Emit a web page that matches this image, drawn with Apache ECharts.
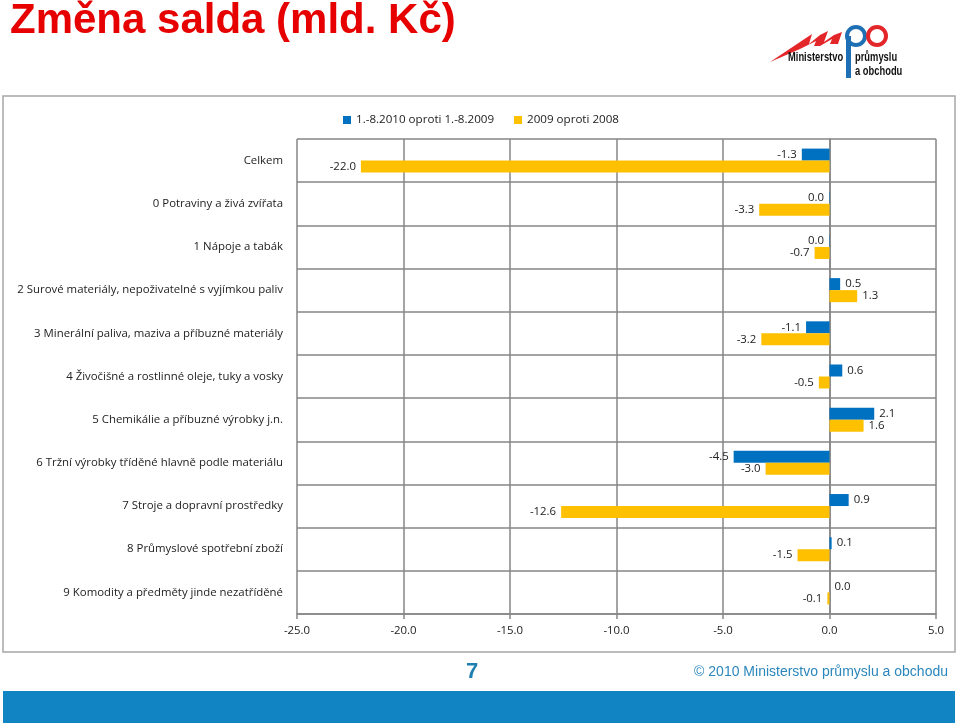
<!DOCTYPE html>
<html>
<head>
<meta charset="utf-8">
<script src="https://cdn.jsdelivr.net/npm/echarts@6/dist/echarts.min.js"></script>
<style>
  html, body { margin: 0; padding: 0; background: #fff; }
  #chart { width: 959px; height: 725px; }
</style>
</head>
<body>
<div id="chart"></div>
<script>
// kategorie (shora dolů)
const categories = [
  'Celkem',
  '0 Potraviny a živá zvířata',
  '1 Nápoje a tabák',
  '2 Surové materiály, nepoživatelné s vyjímkou paliv',
  '3 Minerální paliva, maziva a příbuzné materiály',
  '4 Živočišné a rostlinné oleje, tuky a vosky',
  '5 Chemikálie a příbuzné výrobky j.n.',
  '6 Tržní výrobky tříděné hlavně podle materiálu',
  '7 Stroje a dopravní prostředky',
  '8 Průmyslové spotřební zboží',
  '9 Komodity a předměty jinde nezatříděné'
];
const seriesNames = ['1.-8.2010 oproti 1.-8.2009', '2009 oproti 2008'];
// 1.-8.2010 oproti 1.-8.2009
const change2010 = [-1.3, -0.02, -0.02, 0.5, -1.1, 0.6, 2.1, -4.5, 0.9, 0.1, 0.0];
// 2009 oproti 2008
const change2009 = [-22.0, -3.3, -0.7, 1.3, -3.2, -0.5, 1.6, -3.0, -12.6, -1.5, -0.1];
const xTicks = { min: -25, max: 5, step: 5 };

const fmt = (v) => (Math.round(v * 10) / 10).toFixed(1);
const toItems = (arr) => arr.map(v => ({
  value: v,
  label: { position: v < 0 ? 'left' : 'right' }
}));

const chart = echarts.init(document.getElementById('chart'));
const txt = '#222';
const gridColor = '#868686';
const fs = 11.4;
const logoFont = 'bold 13px "Liberation Sans", Arial, sans-serif';

chart.setOption({
  animation: false,
  textStyle: { fontFamily: '"Open Sans", sans-serif' },
  legend: {
    left: 338, top: 109,
    itemWidth: 8, itemHeight: 8, itemGap: 20,
    icon: 'rect',
    textStyle: { fontSize: 11.6, color: txt, fontFamily: '"Open Sans", sans-serif' },
    data: seriesNames
  },
  grid: { left: 297, right: 23, top: 139, bottom: 111 },
  xAxis: {
    type: 'value',
    min: xTicks.min, max: xTicks.max, interval: xTicks.step,
    axisLine: { show: true, lineStyle: { color: gridColor, width: 1.5 } },
    axisTick: { show: true, length: 5, lineStyle: { color: gridColor, width: 1.5 } },
    splitLine: { show: true, lineStyle: { color: gridColor, width: 1.5 } },
    axisLabel: { formatter: (v) => v.toFixed(1), fontSize: fs, color: txt, margin: 11 }
  },
  yAxis: {
    type: 'category',
    inverse: true,
    data: categories,
    axisLine: { show: true, lineStyle: { color: gridColor, width: 1.5 } },
    axisTick: { show: false },
    splitLine: { show: true, lineStyle: { color: gridColor, width: 1.5 } },
    axisLabel: { fontSize: fs, color: txt, margin: 14 }
  },
  series: [
    {
      name: seriesNames[0], type: 'bar',
      data: toItems(change2010),
      barWidth: 12, barGap: '0%',
      itemStyle: { color: '#0070C0' },
      label: { show: true, distance: 5, fontSize: fs, color: txt, formatter: (p) => fmt(p.value) }
    },
    {
      name: seriesNames[1], type: 'bar',
      data: toItems(change2009),
      barWidth: 12, barGap: '0%',
      itemStyle: { color: '#FFC000' },
      label: { show: true, distance: 5, fontSize: fs, color: txt, formatter: (p) => fmt(p.value) }
    }
  ],
  graphic: [
    // rámeček grafu
    { type: 'rect', shape: { x: 3, y: 96, width: 952, height: 556 },
      style: { fill: 'none', stroke: '#a6a6a6', lineWidth: 1.5 }, z: -1 },
    // nadpis
    { type: 'text', left: 10, top: 0,
      style: { text: 'Změna salda (mld. Kč)', fill: '#E60000',
        font: 'bold 42px "Liberation Sans", Arial, sans-serif' } },
    // logo MPO
    { type: 'polygon', shape: { points: [[770, 62], [800, 42], [812, 34], [809, 44], [820, 35], [828, 31], [824, 42], [834, 35], [842, 32], [838, 44], [830, 44], [832, 39], [820, 46], [814, 46], [816, 41], [800, 49]] },
      style: { fill: '#E3262A' } },
    { type: 'circle', shape: { cx: 856, cy: 36, r: 9 },
      style: { fill: 'none', stroke: '#1F6FB5', lineWidth: 4 } },
    { type: 'rect', shape: { x: 846, y: 36, width: 5, height: 42 }, style: { fill: '#1F6FB5' } },
    { type: 'circle', shape: { cx: 877, cy: 36, r: 9 },
      style: { fill: 'none', stroke: '#E3262A', lineWidth: 4 } },
    { type: 'text', x: 788, y: 51, scaleX: 0.72,
      style: { text: 'Ministerstvo', fill: '#111', font: logoFont } },
    { type: 'text', x: 855, y: 51, scaleX: 0.72,
      style: { text: 'průmyslu', fill: '#111', font: logoFont } },
    { type: 'text', x: 855, y: 65, scaleX: 0.72,
      style: { text: 'a obchodu', fill: '#111', font: logoFont } },
    // zápatí
    { type: 'text', left: 466, top: 661,
      style: { text: '7', fill: '#1F7FB0', font: 'bold 22px "Liberation Sans", Arial, sans-serif' } },
    { type: 'text', right: 11, top: 665,
      style: { text: '© 2010 Ministerstvo průmyslu a obchodu', fill: '#2A86BC', font: '14px "Liberation Sans", Arial, sans-serif' } },
    { type: 'rect', shape: { x: 3, y: 691, width: 952, height: 32 }, style: { fill: '#1184C3' } }
  ]
});
</script>
</body>
</html>
